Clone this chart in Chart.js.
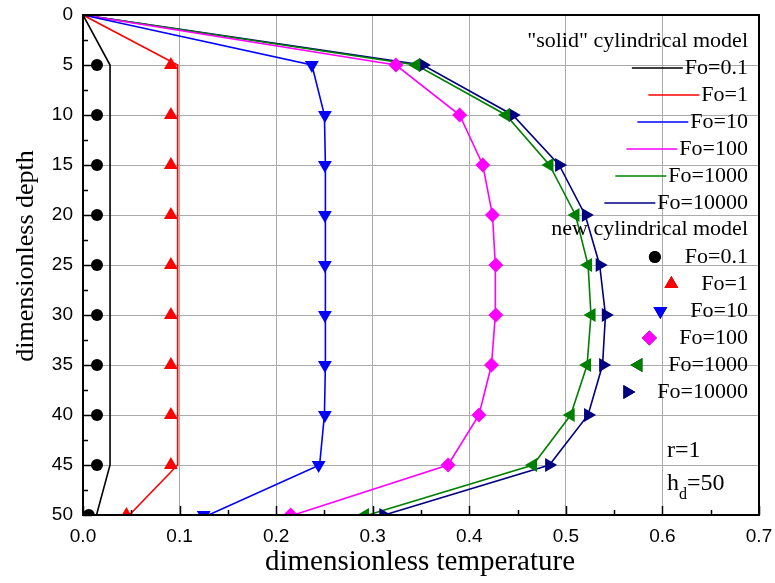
<!DOCTYPE html>
<html>
<head>
<meta charset="utf-8">
<script src="https://cdn.jsdelivr.net/npm/chart.js@4.4.1/dist/chart.umd.min.js"></script>
<style>
  html, body { margin: 0; padding: 0; background: #ffffff; }
  #wrap { width: 775px; height: 583px; }
</style>
</head>
<body>
<div id="wrap"><canvas id="c" width="775" height="583"></canvas></div>
<script>
// ---- data ----
const depths = [0, 5, 10, 15, 20, 25, 30, 35, 40, 45, 50];
const markerDepths = [5, 10, 15, 20, 25, 30, 35, 40, 45, 50];

// "solid" cylindrical model (lines)
const solidFo01    = [0, 0.028, 0.028, 0.028, 0.028, 0.028, 0.028, 0.028, 0.028, 0.028, 0.014];
const solidFo1     = [0, 0.098, 0.098, 0.098, 0.098, 0.098, 0.098, 0.098, 0.098, 0.098, 0.048];
const solidFo10    = [0, 0.237, 0.250, 0.251, 0.251, 0.251, 0.251, 0.251, 0.250, 0.245, 0.130];
const solidFo100   = [0, 0.324, 0.390, 0.414, 0.424, 0.427, 0.427, 0.423, 0.410, 0.378, 0.218];
const solidFo1000  = [0, 0.345, 0.438, 0.483, 0.510, 0.523, 0.526, 0.522, 0.505, 0.466, 0.295];
const solidFo10000 = [0, 0.352, 0.445, 0.493, 0.520, 0.535, 0.541, 0.538, 0.523, 0.483, 0.312];

// new cylindrical model (markers)
const newFo01    = [0.0145, 0.0145, 0.0145, 0.0145, 0.0145, 0.0145, 0.0145, 0.0145, 0.0145, 0.006];
const newFo1     = [0.091, 0.091, 0.091, 0.091, 0.091, 0.091, 0.091, 0.091, 0.091, 0.045];
const newFo10    = [0.237, 0.2505, 0.2505, 0.2505, 0.2505, 0.2505, 0.2505, 0.2505, 0.244, 0.125];
const newFo100   = [0.324, 0.390, 0.414, 0.424, 0.4275, 0.4275, 0.423, 0.410, 0.378, 0.215];
const newFo1000  = [0.345, 0.438, 0.483, 0.510, 0.523, 0.5266, 0.522, 0.505, 0.466, 0.292];
const newFo10000 = [0.352, 0.445, 0.493, 0.5207, 0.535, 0.5414, 0.5386, 0.523, 0.4827, 0.311];

const seriesLabels = ['Fo=0.1', 'Fo=1', 'Fo=10', 'Fo=100', 'Fo=1000', 'Fo=10000'];
const seriesColors = ['#000000', '#ff0000', '#0000ff', '#ff00ff', '#008000', '#000080'];
const markerStyles = ['circle', 'triangle', 'triangle', 'rectRot', 'triangle', 'triangle'];
const markerRotations = [0, 0, 180, 0, -90, 90];
const markerRadii = [6, 8, 8, 7.5, 8, 8];

const xTicks = [0, 0.1, 0.2, 0.3, 0.4, 0.5, 0.6, 0.7];
const yTicks = [0, 5, 10, 15, 20, 25, 30, 35, 40, 45, 50];

const solidSets = [solidFo01, solidFo1, solidFo10, solidFo100, solidFo1000, solidFo10000];
const newSets = [newFo01, newFo1, newFo10, newFo100, newFo1000, newFo10000];

const datasets = [];
solidSets.forEach((arr, i) => {
  datasets.push({
    label: 'solid ' + seriesLabels[i],
    data: depths.map((d, k) => ({ x: arr[k], y: d })),
    showLine: true,
    borderColor: seriesColors[i],
    backgroundColor: seriesColors[i],
    borderWidth: 1.6,
    pointRadius: 0,
    tension: 0,
    order: 2
  });
});
newSets.forEach((arr, i) => {
  datasets.push({
    label: 'new ' + seriesLabels[i],
    data: markerDepths.map((d, k) => ({ x: arr[k], y: d })),
    showLine: false,
    borderColor: seriesColors[i],
    backgroundColor: seriesColors[i],
    borderWidth: 0,
    pointStyle: markerStyles[i],
    rotation: markerRotations[i],
    pointRadius: markerRadii[i],
    order: 1
  });
});

const SERIF = '"Liberation Serif", "Times New Roman", serif';

const decorPlugin = {
  id: 'decor',
  afterDraw(chart) {
    const ctx = chart.ctx;
    const a = chart.chartArea;
    const xs = chart.scales.x, ys = chart.scales.y;
    ctx.save();
    // inner ticks
    ctx.strokeStyle = '#000';
    ctx.lineWidth = 1.5;
    for (let k = 0; k <= 14; k++) {
      const v = k * 0.05;
      const px = Math.round(xs.getPixelForValue(v)) + 0.5;
      const len = (k % 2 === 0) ? 9 : 5;
      ctx.beginPath(); ctx.moveTo(px, a.bottom); ctx.lineTo(px, a.bottom - len); ctx.stroke();
    }
    for (let k = 0; k <= 20; k++) {
      const v = k * 2.5;
      const py = Math.round(ys.getPixelForValue(v)) + 0.5;
      const len = (k % 2 === 0) ? 9 : 5;
      ctx.beginPath(); ctx.moveTo(a.left, py); ctx.lineTo(a.left + len, py); ctx.stroke();
    }
    // frame
    ctx.lineWidth = 2;
    ctx.strokeRect(a.left, a.top, a.right - a.left, a.bottom - a.top);

    // axis titles
    ctx.fillStyle = '#000';
    ctx.font = '29px ' + SERIF;
    ctx.textAlign = 'center';
    ctx.textBaseline = 'alphabetic';
    ctx.fillText('dimensionless temperature', 420, 570);
    ctx.save();
    ctx.translate(33, 256);
    ctx.rotate(-Math.PI / 2);
    ctx.font = '26px ' + SERIF;
    ctx.fillText('dimensionless depth', 0, 0);
    ctx.restore();

    // legend
    ctx.font = '22px ' + SERIF;
    ctx.textAlign = 'right';
    ctx.textBaseline = 'middle';
    const tx = 748;
    ctx.fillText('"solid" cylindrical model', tx, 41);
    ctx.fillText('new cylindrical model', tx, 229);
    for (let i = 0; i < 6; i++) {
      const y1 = 68 + i * 27;
      const w = ctx.measureText(seriesLabels[i]).width;
      ctx.fillStyle = '#000';
      ctx.fillText(seriesLabels[i], tx, y1);
      ctx.strokeStyle = seriesColors[i];
      ctx.lineWidth = 1.6;
      ctx.beginPath();
      ctx.moveTo(tx - w - 53, y1); ctx.lineTo(tx - w - 2, y1);
      ctx.stroke();

      const y2 = 257 + i * 27;
      ctx.fillStyle = '#000';
      ctx.fillText(seriesLabels[i], tx, y2);
      Chart.helpers.drawPoint(ctx, {
        pointStyle: markerStyles[i],
        rotation: markerRotations[i],
        radius: markerRadii[i],
        borderWidth: 0
      }, tx - w - 30, y2);
      ctx.fillStyle = seriesColors[i];
      ctx.fill();
      ctx.fillStyle = '#000';
    }

    // annotation
    ctx.textAlign = 'left';
    ctx.textBaseline = 'alphabetic';
    ctx.font = '24px ' + SERIF;
    ctx.fillText('r=1', 667, 457);
    ctx.fillText('h', 667, 490);
    const hw = ctx.measureText('h').width;
    ctx.font = '16px ' + SERIF;
    ctx.fillText('d', 667 + hw, 499);
    const dw = ctx.measureText('d').width;
    ctx.font = '24px ' + SERIF;
    ctx.fillText('=50', 667 + hw + dw, 490);
    ctx.restore();
  }
};

new Chart(document.getElementById('c'), {
  type: 'scatter',
  data: { datasets },
  options: {
    responsive: false,
    animation: false,
    devicePixelRatio: 1,
    layout: { padding: { top: 15, right: 16, left: 0, bottom: 0 } },
    plugins: { legend: { display: false }, tooltip: { enabled: false } },
    scales: {
      x: {
        type: 'linear',
        min: 0, max: 0.7,
        afterBuildTicks: (s) => { s.ticks = xTicks.map(v => ({ value: v })); },
        afterFit: (s) => { s.height = 68; s.paddingLeft = 0; s.paddingRight = 0; },
        ticks: {
          color: '#000',
          font: { family: '"Liberation Sans", Arial, sans-serif', size: 19 },
          padding: 10,
          maxRotation: 0,
          callback: (v) => Number(v).toFixed(1)
        },
        grid: { color: '#ababab', lineWidth: 1, drawTicks: false },
        border: { display: false }
      },
      y: {
        type: 'linear',
        reverse: true,
        min: 0, max: 50,
        afterBuildTicks: (s) => { s.ticks = yTicks.map(v => ({ value: v })); },
        afterFit: (s) => { s.width = 83; s.paddingTop = 0; s.paddingBottom = 0; },
        ticks: {
          color: '#000',
          font: { family: '"Liberation Sans", Arial, sans-serif', size: 19 },
          padding: 10,
          callback: (v) => String(v)
        },
        grid: { color: '#ababab', lineWidth: 1, drawTicks: false },
        border: { display: false }
      }
    }
  },
  plugins: [decorPlugin]
});
</script>
</body>
</html>
